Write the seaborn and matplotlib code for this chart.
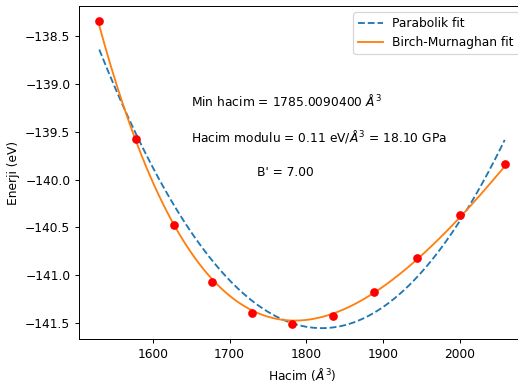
import numpy as np
import pandas as pd
import matplotlib
matplotlib.use("Agg")
import matplotlib.pyplot as plt
import seaborn as sns

# Data
volumes = [1530, 1578, 1627, 1677, 1729, 1782, 1835, 1889, 1945, 2001, 2059]
energies = [-138.34, -139.57, -140.47, -141.07, -141.40, -141.51, -141.43,
            -141.18, -140.82, -140.37, -139.84]

# Fitted parameters shown on the chart
V0 = 1785.0090400
B0_GPa = 18.10
Bp = 7.00
labels_text = ["Min hacim = 1785.0090400 $\\AA^3$",
               "Hacim modulu = 0.11 eV/$\\AA^3$ = 18.10 GPa",
               "B' = 7.00"]

plt.rcParams["font.size"] = 10
plt.rcParams["font.family"] = ["DejaVu Sans"]

DPI = 88.5
fig = plt.figure(figsize=(518 / DPI, 382 / DPI), dpi=DPI)
ax = fig.add_axes([79 / 518, 43 / 382, (525 - 79) / 518, (339 - 6) / 382])

V = np.array(volumes, dtype=float)
E = np.array(energies, dtype=float)

# Parabolic fit
coef = np.polyfit(V, E, 2)
vfit = np.linspace(V.min(), V.max(), 200)
efit_par = np.polyval(coef, vfit)

# Birch-Murnaghan with shown parameters; E0 from least squares
B0 = B0_GPa / 160.21766


def bm_shape(v):
    eta = (V0 / v) ** (2.0 / 3.0)
    return 9.0 * V0 * B0 / 16.0 * ((eta - 1) ** 3 * Bp + (eta - 1) ** 2 * (6 - 4 * eta))


E0 = np.mean(E - bm_shape(V))
efit_bm = E0 + bm_shape(vfit)

df_fit = pd.DataFrame({"V": vfit, "par": efit_par, "bm": efit_bm})
df_pts = pd.DataFrame({"V": V, "E": E})

sns.lineplot(data=df_fit, x="V", y="par", ax=ax, color="#1f77b4",
             linestyle="--", label="Parabolik fit", linewidth=1.5)
sns.lineplot(data=df_fit, x="V", y="bm", ax=ax, color="#ff7f0e",
             label="Birch-Murnaghan fit", linewidth=1.5)
sns.scatterplot(data=df_pts, x="V", y="E", ax=ax, color="red", s=50,
                linewidth=0, zorder=3)

ax.set_xlim(V.min() - 0.05 * (V.max() - V.min()), V.max() + 0.05 * (V.max() - V.min()))
ax.set_ylim(E.min() - 0.05 * (E.max() - E.min()), E.max() + 0.05 * (E.max() - E.min()))

ax.text(1650, -139.23, labels_text[0])
ax.text(1650, -139.60, labels_text[1])
ax.text(1736, -139.96, labels_text[2])

ax.set_xlabel("Hacim ($\\AA^3$)")
ax.set_ylabel("Enerji (eV)")
ax.legend(loc="upper right")

fig.savefig("out.png", dpi=DPI)
